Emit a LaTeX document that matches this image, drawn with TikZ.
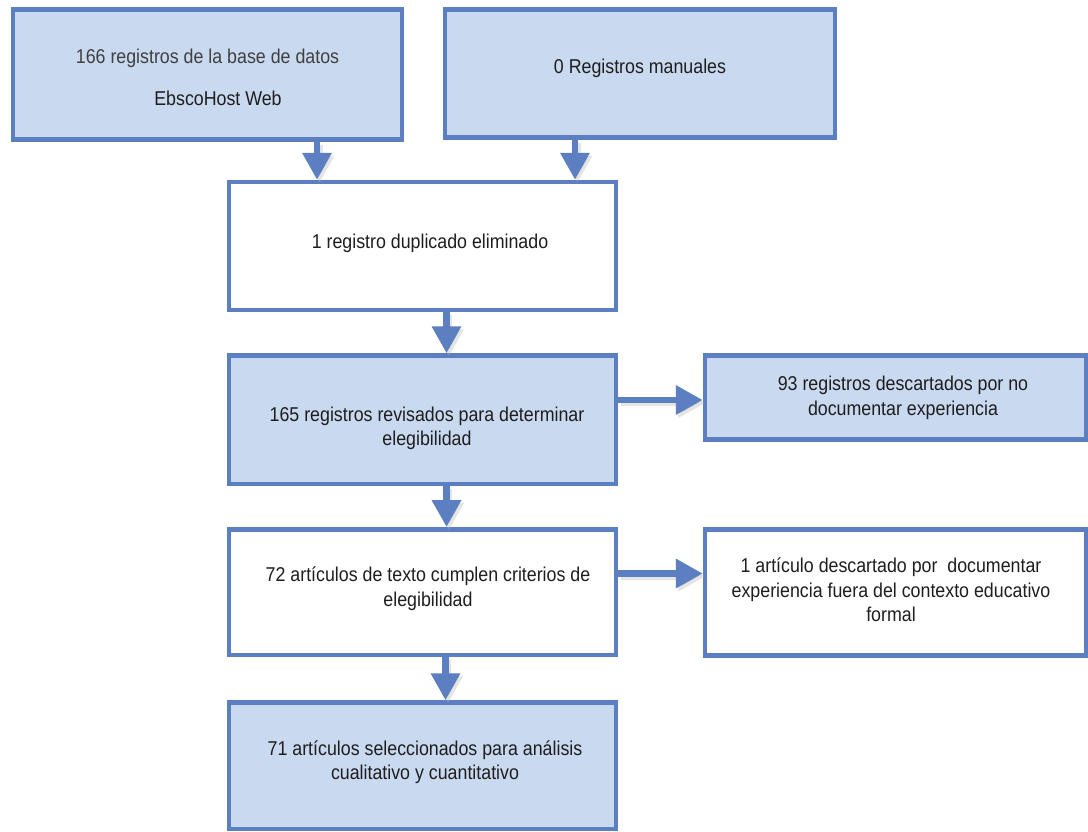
\documentclass[tikz,border=0pt]{standalone}
\usepackage{fontspec}
\setmainfont{Liberation Sans}[FakeStretch=0.89]
\usetikzlibrary{arrows.meta}
\definecolor{bord}{HTML}{5B7FC1}
\definecolor{lblue}{HTML}{C9D9F0}
\definecolor{txt}{HTML}{1E1E1E}
\tikzset{
  box/.style={draw=bord, line width=4.5pt, rectangle, inner sep=0pt},
  bluebox/.style={box, fill=lblue},
  whitebox/.style={box, fill=white},
  lbl/.style={align=center, inner sep=0pt, text=txt, font=\fontsize{20}{24.5}\selectfont},
  arr/.style={draw=bord, line width=6.5pt, -{Triangle[length=27pt,width=28pt]}},
  arrshadow/.style={draw=black!30, opacity=0.35, line width=6.5pt, -{Triangle[length=27pt,width=28pt]}, transform canvas={xshift=2.5pt,yshift=-3pt}},
}
\begin{document}
\begin{tikzpicture}[x=1pt,y=-1pt]
\useasboundingbox (0,0) rectangle (1088,831);
\fill[white] (0,0) rectangle (1088,831);
\node[bluebox, minimum width=389, minimum height=130] (b1) at (207.5,74.5) {};
\node[bluebox, minimum width=390, minimum height=128] (b2) at (640,73.5) {};
\node[whitebox, minimum width=387, minimum height=128] (b3) at (422.5,246) {};
\node[bluebox, minimum width=387, minimum height=128.5] (b4) at (422.5,419.75) {};
\node[bluebox, minimum width=381, minimum height=84] (b5) at (895.5,397.5) {};
\node[whitebox, minimum width=387, minimum height=125.5] (b6) at (422.5,592) {};
\node[whitebox, minimum width=381, minimum height=126] (b7) at (895.5,592.5) {};
\node[bluebox, minimum width=387, minimum height=126.5] (b8) at (422.5,765.75) {};
% texts
\node[lbl, text=black!75] (t1a) at (207.5,58) {166 registros de la base de datos};
\node[lbl] (t1b) at (218,98) {EbscoHost Web};
\node[lbl] (t2) at (640,68) {0 Registros manuales};
\node[lbl] (t3) at (430,243) {1 registro duplicado eliminado};
\node[lbl] (t4) at (427,428.5) {165 registros revisados para determinar\\elegibilidad};
\node[lbl] (t5) at (903,398) {93 registros descartados por no\\documentar experiencia};
\node[lbl] (t6) at (428,588.5) {72 artículos de texto cumplen criterios de\\elegibilidad};
\node[lbl] (t7) at (891,590) {1 artículo descartado por\ \ documentar\\experiencia fuera del contexto educativo\\formal};
\node[lbl] (t8) at (425,762) {71 artículos seleccionados para análisis\\cualitativo y cuantitativo};
% arrows
\foreach \s in {arrshadow, arr}{
\draw[\s] ([xshift=109.5pt]b1.south) -- ([xshift=109.5pt]b1.south |- b3.north);
\draw[\s] ([xshift=-65pt]b2.south) -- ([xshift=-65pt]b2.south |- b3.north);
\draw[\s] ([xshift=24pt]b3.south) -- ([xshift=24pt]b3.south |- b4.north);
\draw[\s] ([xshift=24pt]b4.south) -- ([xshift=24pt]b4.south |- b6.north);
\draw[\s] ([xshift=23pt]b6.south) -- ([xshift=23pt]b6.south |- b8.north);
\draw[\s] ([yshift=19.75pt]b4.east) -- ([yshift=19.75pt]b4.east -| b5.west);
\draw[\s] ([yshift=18.5pt]b6.east) -- ([yshift=18.5pt]b6.east -| b7.west);
}
\end{tikzpicture}
\end{document}
